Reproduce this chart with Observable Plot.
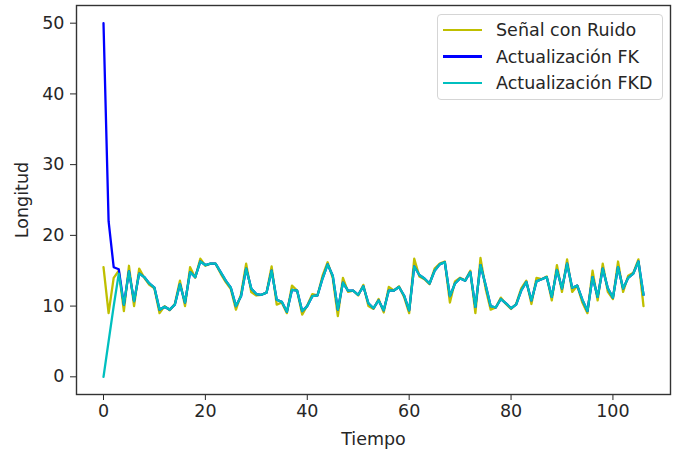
<!DOCTYPE html>
<html><head><meta charset="utf-8">
<script src="https://cdn.jsdelivr.net/npm/d3@7"></script>
<script src="https://cdn.jsdelivr.net/npm/@observablehq/plot@0.6"></script>
<style>
body{margin:0;background:#fff;font-family:"DejaVu Sans",sans-serif;}
#wrap{position:relative;width:680px;height:454px;}
#legend{position:absolute;left:437px;top:14px;width:226px;height:86px;border:1px solid #d5d5d5;border-radius:4px;background:rgba(255,255,255,0.85);box-sizing:border-box;}
.row{position:absolute;left:0;height:22px;display:flex;align-items:center;font-size:17.5px;color:#262626;white-space:nowrap;}
.sw{display:inline-block;width:39px;height:2.4px;margin-left:5px;margin-right:14px;}
</style></head>
<body><div id="wrap"></div>
<script>
const tiempo = d3.range(107);
const senal = [15.5,9.0,14.0,15.0,9.3,15.7,10.0,15.3,14.0,13.0,
12.5,9.0,10.0,9.4,10.3,13.6,10.0,15.5,14.0,16.7,
15.7,16.0,16.0,14.6,13.4,12.4,9.5,11.7,16.0,12.0,
11.5,11.6,11.9,15.6,10.2,10.5,9.0,12.9,12.2,8.8,
10.1,11.7,11.5,14.3,16.2,14.0,8.6,14.0,12.0,12.2,
11.5,13.0,10.0,9.6,11.0,9.1,12.7,12.2,12.8,11.3,
9.0,16.7,14.2,13.8,13.1,15.3,16.0,16.3,10.5,13.5,
14.0,13.6,15.0,9.0,16.8,12.5,9.5,9.8,11.2,10.3,
9.6,10.3,12.5,13.6,10.3,14.0,13.8,14.2,10.8,15.8,
12.0,16.6,12.0,12.9,10.5,9.0,15.0,10.8,16.0,12.0,
11.0,16.3,12.0,14.3,14.7,16.6,10.0];
const fk = [50.0,22.0,15.5,15.2,10.2,14.9,10.7,14.6,14.1,13.2,
12.6,9.5,9.9,9.5,10.2,13.1,10.5,14.8,14.1,16.3,
15.8,16.0,16.0,14.8,13.6,12.6,10.0,11.4,15.3,12.5,
11.7,11.6,11.9,15.0,10.9,10.6,9.2,12.3,12.2,9.3,
10.0,11.4,11.5,13.9,15.9,14.3,9.5,13.3,12.2,12.2,
11.6,12.8,10.4,9.7,10.8,9.4,12.2,12.2,12.7,11.5,
9.4,15.6,14.4,13.9,13.2,15.0,15.9,16.2,11.4,13.2,
13.9,13.6,14.8,9.9,15.8,13.0,10.0,9.8,11.0,10.4,
9.7,10.2,12.2,13.4,10.8,13.5,13.8,14.1,11.3,15.1,
12.5,16.0,12.6,12.9,10.9,9.3,14.1,11.3,15.3,12.5,
11.2,15.5,12.5,14.0,14.6,16.3,11.6];
const fkd = [0.0,5.0,10.0,14.6,10.2,14.9,10.7,14.6,14.1,13.2,
12.6,9.5,9.9,9.5,10.2,13.1,10.5,14.8,14.1,16.3,
15.8,16.0,16.0,14.8,13.6,12.6,10.0,11.4,15.3,12.5,
11.7,11.6,11.9,15.0,10.9,10.6,9.2,12.3,12.2,9.3,
10.0,11.4,11.5,13.9,15.9,14.3,9.5,13.3,12.2,12.2,
11.6,12.8,10.4,9.7,10.8,9.4,12.2,12.2,12.7,11.5,
9.4,15.6,14.4,13.9,13.2,15.0,15.9,16.2,11.4,13.2,
13.9,13.6,14.8,9.9,15.8,13.0,10.0,9.8,11.0,10.4,
9.7,10.2,12.2,13.4,10.8,13.5,13.8,14.1,11.3,15.1,
12.5,16.0,12.6,12.9,10.9,9.3,14.1,11.3,15.3,12.5,
11.2,15.5,12.5,14.0,14.6,16.3,11.6];
const seriesNames = ["Señal con Ruido","Actualización FK","Actualización FKD"];
const seriesColors = ["#bfbf00","#0000ff","#00bfbf"];
const xTicks = [0,20,40,60,80,100];
const yTicks = [0,10,20,30,40,50];

const allSeries = [senal, fk, fkd];
const lineMarks = allSeries.map((vals, k) =>
  Plot.lineY(vals, {x: (d, i) => tiempo[i], y: d => d, stroke: seriesColors[k], strokeWidth: 2.3})
);

const chart = Plot.plot({
  width: 680, height: 454,
  marginLeft: 76, marginRight: 10, marginTop: 5, marginBottom: 60,
  style: {fontFamily: "DejaVu Sans", fontSize: "17.5px", color: "#262626", background: "#fff", overflow: "visible"},
  x: {domain: [-5.3, 111.3]},
  y: {domain: [-2.5, 52.5]},
  marks: [
    Plot.axisX({ticks: xTicks, tickSize: 6, tickPadding: 4, fontSize: 17.5, label: "Tiempo", labelAnchor: "center", labelArrow: "none", labelOffset: 50}),
    Plot.axisY({ticks: yTicks, tickSize: 6, tickPadding: 6, fontSize: 17.5, label: "Longitud", labelAnchor: "center", labelArrow: "none", labelOffset: 61}),
    ...lineMarks,
    Plot.frame({stroke: "#333", strokeWidth: 1.4})
  ]
});
const wrap = document.getElementById("wrap");
wrap.appendChild(chart);
const legend = document.createElement("div");
legend.id = "legend";
seriesNames.forEach((name, k) => {
  const row = document.createElement("div");
  row.className = "row";
  row.style.top = (4 + k * 26.5) + "px";
  const sw = document.createElement("span");
  sw.className = "sw";
  sw.style.background = seriesColors[k];
  row.appendChild(sw);
  row.appendChild(document.createTextNode(name));
  legend.appendChild(row);
});
wrap.appendChild(legend);
</script>
</body></html>
